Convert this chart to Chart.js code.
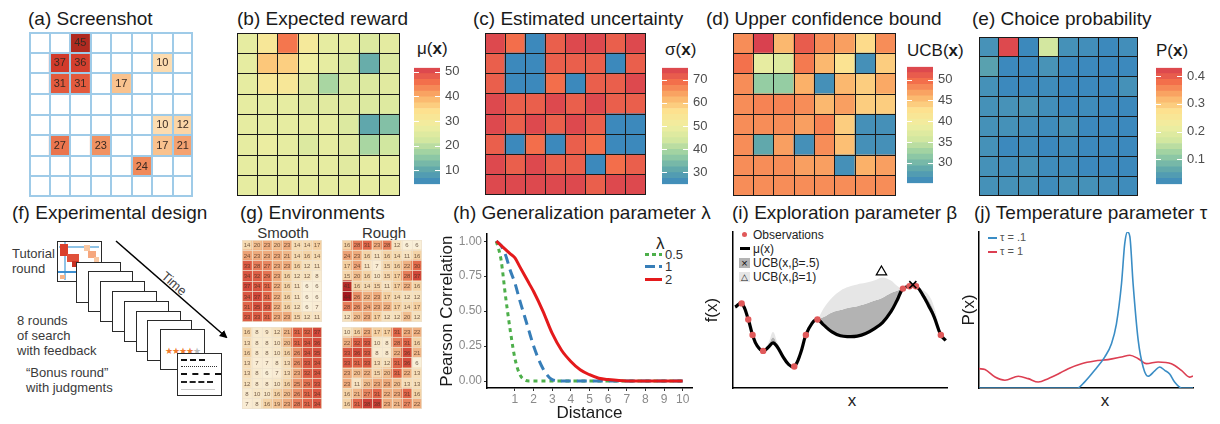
<!DOCTYPE html>
<html><head><meta charset="utf-8">
<script src="https://cdn.jsdelivr.net/npm/chart.js@4.4.1/dist/chart.umd.min.js"></script>
<style>
body{margin:0;background:#fff;font-family:"Liberation Sans",Arial,sans-serif;color:#222;}
#root{position:relative;width:1220px;height:424px;overflow:hidden;background:#fff;}
.t{position:absolute;white-space:nowrap;}
.title{position:absolute;white-space:nowrap;font-size:19px;line-height:19px;color:#1a1a1a;}
.cbl{position:absolute;white-space:nowrap;font-size:17px;line-height:17px;color:#1a1a1a;}
.fr{position:absolute;width:43px;height:39px;background:#fff;border:1.5px solid #2a2a2a;}
.ft{position:absolute;font-size:13px;line-height:15px;color:#3a3a3a;white-space:nowrap;}
.lg{position:absolute;white-space:nowrap;}
</style></head>
<body><div id="root">
<div class="title" style="left:28px;top:9px">(a) Screenshot</div>
<div class="title" style="left:237px;top:9px">(b) Expected reward</div>
<div class="title" style="left:473px;top:9px">(c) Estimated uncertainty</div>
<div class="title" style="left:706px;top:9px">(d) Upper confidence bound</div>
<div class="title" style="left:972px;top:9px">(e) Choice probability</div>
<div class="title" style="left:12px;top:203px">(f) Experimental design</div>
<div class="title" style="left:240px;top:203px">(g) Environments</div>
<div class="title" style="left:453px;top:203px">(h) Generalization parameter λ</div>
<div class="title" style="left:732px;top:203px">(i) Exploration parameter β</div>
<div class="title" style="left:974px;top:203px">(j) Temperature parameter τ</div>

<div class="cbl" style="left:417px;top:40px">μ(<b>x</b>)</div>
<div class="cbl" style="left:665px;top:41px">σ(<b>x</b>)</div>
<div class="cbl" style="left:907px;top:42px">UCB(<b>x</b>)</div>
<div class="cbl" style="left:1156px;top:42px">P(<b>x</b>)</div>

<!-- (f) experimental design illustration -->
<div class="ft" style="left:12px;top:246px">Tutorial<br>round</div>
<div class="ft" style="left:17px;top:313px">8 rounds<br>of search<br>with feedback</div>
<div class="ft" style="left:26px;top:365px">“Bonus round”<br>with judgments</div>
<div id="frames"></div>
<svg style="position:absolute;left:0;top:0" width="240" height="424">
 <defs><marker id="ah" markerWidth="8" markerHeight="8" refX="6" refY="4" orient="auto" markerUnits="userSpaceOnUse"><path d="M0,0 L8,4 L0,8 z" fill="#000"/></marker></defs>
 <line x1="116" y1="241" x2="226" y2="337" stroke="#000" stroke-width="1.5" marker-end="url(#ah)"/>
</svg>
<div class="t" style="left:160px;top:277px;font-size:13px;line-height:13px;color:#444;transform:rotate(41deg);transform-origin:center;">Time</div>

<div class="t" style="left:243px;top:225px;width:80px;text-align:center;font-size:15px;line-height:15px;color:#333">Smooth</div>
<div class="t" style="left:344px;top:225px;width:80px;text-align:center;font-size:15px;line-height:15px;color:#333">Rough</div>

<!-- (h) legend -->
<div class="lg" style="left:656px;top:235px;font-size:17px;line-height:17px;color:#222">λ</div>
<div class="lg" style="left:645px;top:253px;width:17px;height:3px;background:repeating-linear-gradient(90deg,#4daf4a 0 4px,transparent 4px 7px)"></div>
<div class="lg" style="left:665px;top:248px;font-size:13px;line-height:13px;color:#333">0.5</div>
<div class="lg" style="left:645px;top:265px;width:17px;height:3px;background:repeating-linear-gradient(90deg,#377eb8 0 10px,transparent 10px 14px)"></div>
<div class="lg" style="left:665px;top:260px;font-size:13px;line-height:13px;color:#333">1</div>
<div class="lg" style="left:645px;top:278px;width:17px;height:3px;background:#e41a1c"></div>
<div class="lg" style="left:665px;top:273px;font-size:13px;line-height:13px;color:#333">2</div>

<!-- (i) legend -->
<div class="lg" style="left:742px;top:232px;width:5px;height:5px;border-radius:50%;background:#e0595a"></div>
<div class="lg" style="left:753px;top:229px;font-size:12px;line-height:12px;color:#222">Observations</div>
<div class="lg" style="left:740px;top:247px;width:10px;height:3px;background:#000"></div>
<div class="lg" style="left:753px;top:243px;font-size:12px;line-height:12px;color:#222">μ(x)</div>
<div class="lg" style="left:739px;top:258px;width:11px;height:10px;background:#b3b3b3;font-size:11px;line-height:10px;text-align:center;color:#111">×</div>
<div class="lg" style="left:753px;top:257px;font-size:12px;line-height:12px;color:#222">UCB(x,β=.5)</div>
<div class="lg" style="left:739px;top:272px;width:11px;height:10px;background:#e6e6e6;font-size:9px;line-height:10px;text-align:center;color:#111">△</div>
<div class="lg" style="left:753px;top:271px;font-size:12px;line-height:12px;color:#222">UCB(x,β=1)</div>
<div class="t" style="left:842px;top:392px;width:20px;text-align:center;font-size:17px;line-height:17px;color:#222">x</div>

<!-- (j) legend -->
<div class="lg" style="left:988px;top:237px;width:9px;height:1.5px;background:#3a8dc5"></div>
<div class="lg" style="left:1000px;top:232px;font-size:11px;line-height:11px;color:#555">τ = .1</div>
<div class="lg" style="left:988px;top:251px;width:9px;height:1.5px;background:#dc3f52"></div>
<div class="lg" style="left:1000px;top:246px;font-size:11px;line-height:11px;color:#555">τ = 1</div>
<div class="t" style="left:1095px;top:392px;width:20px;text-align:center;font-size:17px;line-height:17px;color:#222">x</div>
</div>

<script>
// ---------------- DATA ----------------
const gridCols = ['1','2','3','4','5','6','7','8'];

const screenshotValues = [
 [null,null,45,null,null,null,null,null],
 [null,37,36,null,null,null,10,null],
 [null,31,31,null,17,null,null,null],
 [null,null,null,null,null,null,null,null],
 [null,null,null,null,null,null,10,12],
 [null,27,null,23,null,null,17,21],
 [null,null,null,null,null,24,null,null],
 [null,null,null,null,null,null,null,null]
];

const expectedReward = [
 [26,31,45,30,26,26,24,25.5],
 [26,37,36,28,26,24,11,24],
 [26,31,31,25,18,24,24,25],
 [26,26,26,25,25,25,24,24.5],
 [26,26,26,26,26,24,10,14],
 [26,27,26,24,26,25,18,22],
 [26,26,26,26,26,25,26,26],
 [26,26,26,26,26,26,26,26]
];
const muRange = [4.4, 51.5];
const muTicks = [10,20,30,40,50];

const estUncertainty = [
 [74,69,25,71,74,74,71,74],
 [71,25,25,71,71,71,25,71],
 [71,25,25,69,25,71,71,74],
 [74,71,71,74,71,74,71,71],
 [74,71,74,71,74,71,25,25],
 [71,25,69,25,71,69,25,25],
 [74,71,74,71,71,25,69,71],
 [74,74,74,74,74,71,74,74]
];
const sigmaRange = [24.8, 75.2];
const sigmaTicks = [30,40,50,60,70];

const ucbValues = [
 [48,53,45.5,51,48,47,43,48],
 [49.5,38,37,49,45.5,42,26,44],
 [48,32,32,46,26,45.5,44,46.5],
 [48,48.5,48.5,48,45.5,47,44,44],
 [48,48,48,47,48.5,44,26,26],
 [48,28.5,47,26,48,45,26,26],
 [48,48,48,47,47,26,46,47],
 [48,48,48,48,48,48,48,48]
];
const ucbRange = [25.1, 53.1];
const ucbTicks = [30,35,40,45,50];

const choiceProb = [
 [0.026,0.42,0.012,0.17,0.024,0.02,0.012,0.02],
 [0.05,0.011,0.011,0.028,0.011,0.011,0.01,0.011],
 [0.024,0.011,0.011,0.016,0.01,0.011,0.011,0.024],
 [0.024,0.026,0.028,0.02,0.011,0.016,0.011,0.012],
 [0.024,0.024,0.02,0.016,0.024,0.011,0.011,0.011],
 [0.024,0.011,0.016,0.01,0.016,0.011,0.011,0.011],
 [0.024,0.02,0.024,0.016,0.016,0.011,0.011,0.012],
 [0.024,0.024,0.024,0.016,0.024,0.024,0.02,0.016]
];
const probRange = [0.01, 0.43];
const probTicks = [0.1,0.2,0.3,0.4];

const smoothEnv1 = [
 [14,20,23,20,23,14,14,17],
 [24,23,23,23,21,14,16,14],
 [33,28,27,23,23,16,12,11],
 [34,32,29,23,16,12,12,8],
 [37,34,31,22,16,11,6,6],
 [34,37,31,22,16,11,6,6],
 [31,35,33,22,16,12,6,7],
 [33,33,31,23,23,15,12,11]
];
const roughEnv1 = [
 [16,28,31,23,28,12,6,6],
 [24,23,16,11,16,14,11,16],
 [17,24,11,7,15,16,22,30],
 [15,20,16,10,15,17,28,37],
 [41,16,14,15,11,17,22,16],
 [44,26,22,23,17,14,12,12],
 [28,26,24,23,22,17,14,17],
 [12,20,23,17,12,12,20,12]
];
const smoothEnv2 = [
 [16,8,9,12,21,31,32,37],
 [13,8,8,10,20,31,34,36],
 [16,8,8,10,16,26,34,35],
 [13,7,7,8,13,26,33,34],
 [13,8,6,7,13,23,32,34],
 [12,8,8,10,16,25,29,33],
 [8,10,10,16,20,26,31,34],
 [7,8,16,19,23,28,31,34]
];
const roughEnv2 = [
 [10,16,23,17,17,31,23,22],
 [22,32,33,10,8,28,31,16],
 [33,36,33,8,8,22,36,21],
 [33,31,33,13,12,31,36,6],
 [23,20,22,15,20,31,22,13],
 [23,11,20,23,23,20,13,13],
 [16,21,27,31,22,23,31,16],
 [16,31,38,38,23,21,27,22]
];

// (h) generalization
const distance  = [0,0.25,0.5,0.75,1,1.25,1.5,1.75,2,2.5,3,3.5,4,4.5,5,5.5,6,7,8,9,10];
const corrLam05 = [1,0.87,0.6,0.36,0.16,0.05,0.01,0,0,0,0,0,0,0,0,0,0,0,0,0,0];
const corrLam1  = [1,0.97,0.9,0.79,0.7,0.58,0.47,0.36,0.25,0.09,0.01,0,0,0,0,0,0,0,0,0,0];
const corrLam2  = [1,0.97,0.94,0.91,0.88,0.82,0.76,0.7,0.64,0.5,0.34,0.22,0.14,0.08,0.045,0.02,0.01,0,0,0,0];
const distTicks = [1,2,3,4,5,6,7,8,9,10];
const corrTicks = [0,0.25,0.5,0.75,1];

// (i) exploration
const xI      = [0,3.1,6.25,8.3,10.5,13.3,16,18,20,22.7,25.5,28.1,31,33.6,36.5,39.1,42,46,50,54,58,62,66,70,74,77,79.7,82.8,85.9,89,92,94.5,97.7,100];
const muI     = [52,54.3,44,34,27,23.8,26.5,29,26.5,20.2,15,13.8,22,34,41.5,44,40.5,36,33.5,33,33.3,35,38,42,49,56.5,63.8,65.3,65.3,60,52.5,45.7,34,30.5];
const ucbHalfI= [52,54.3,44,34,27.5,23.8,28,32.5,28,20.5,15.3,13.8,22,34,41.5,44,45.5,48.5,50,51.5,52.5,54,56,58,61,62.5,63.8,65.3,65.3,61.5,56,49,35,31];
const ucbOneI = [52.5,54.3,44,34,28,23.8,29.5,36,29.5,21,15.6,13.8,22,34,41.5,44,51,58,62.5,65,66.5,67.5,69,71,69,65.5,63.8,65.3,65.3,63,59.5,52,36,32];
const obsX    = [3.1,6.25,8.3,13.3,28.1,33.6,39.1,79.7,82.8,85.9,97.7];
const obsY    = [54.3,44,34,23.8,13.8,34,44,63.8,65.3,65.3,34];
const maxUcb1 = [69.5,74.5];
const maxUcbHalf = [84.4,66.3];

// (j) temperature
const blueX = [0,5,20,40,46,49.3,54,58.8,61.9,64.2,66.6,68.1,69.4,70.5,72,74.4,76.7,79,82.1,84.4,86.8,89.1,91.4,94.6,100];
const blueY = [0,0,0,0,0,3.8,11.3,20,28.4,41,67,92.5,100,97,67,30.5,13.5,7.5,11,13.5,11.3,9,3.8,0,0];
const redX  = [0,2.8,7.5,12.1,18.4,23,27.7,32.3,37,41.7,47.9,54.1,60.3,66.6,70.5,74.4,78.2,83.7,89.9,94.6,98.4,100];
const redY  = [12.4,11.8,7,5,7.5,6,3.8,6,9,12.4,15.6,17.3,18.2,19.9,21,18.8,15.6,16.7,15.6,11.3,7,7.7];

// ---------------- HELPERS ----------------
const root = document.getElementById('root');
Chart.defaults.font.family = '"Liberation Sans", Arial, sans-serif';
Chart.defaults.animation = false;
Chart.defaults.plugins.legend.display = false;
Chart.defaults.plugins.tooltip.enabled = false;

function mk(left, top, w, h, extra){
  const c = document.createElement('canvas');
  c.width = w; c.height = h;
  c.style.cssText = `position:absolute;left:${left}px;top:${top}px;width:${w}px;height:${h}px;` + (extra||'');
  root.appendChild(c); return c;
}
function hexToRgb(h){h=h.replace('#','');return [0,2,4].map(i=>parseInt(h.substr(i,2),16));}
function mix(c1,c2,t){const a=hexToRgb(c1),b=hexToRgb(c2);return 'rgb('+a.map((v,i)=>Math.round(v+(b[i]-v)*t)).join(',')+')';}
function rampEven(cols,t){t=Math.max(0,Math.min(1,t));const s=t*(cols.length-1);const i=Math.min(Math.floor(s),cols.length-2);return mix(cols[i],cols[i+1],s-i);}
function rampStops(stops,v){
  if(v<=stops[0][0]) return stops[0][1];
  for(let i=0;i<stops.length-1;i++){ if(v<=stops[i+1][0]){const t=(v-stops[i][0])/(stops[i+1][0]-stops[i][0]);return mix(stops[i][1],stops[i+1][1],t);} }
  return stops[stops.length-1][1];
}
const SPECTRAL = ['#3b88bd','#62a9ab','#96cea3','#d2e7a0','#f0eea1','#fde18f','#fbb068','#f36f4b','#d8404f'];
const spectral = t => rampEven(SPECTRAL, t);
const shotStops = [[10,'#fcdcb0'],[17,'#f9c28e'],[24,'#f08a5b'],[31,'#e35a3d'],[37,'#d13a2b'],[45,'#b02a20']];
const envStops = [[5,'#faf1dd'],[12,'#f6e1bd'],[17,'#f4cfa0'],[23,'#eeaa7c'],[30,'#e36a4b'],[37,'#d2473a'],[44,'#a3161e']];

const cellText = {
  id:'cellText',
  afterDatasetsDraw(chart, args, opts){
    if(!opts || !opts.show) return;
    const ctx = chart.ctx;
    chart.data.datasets.forEach((ds,i)=>{
      const meta = chart.getDatasetMeta(i);
      meta.data.forEach((el,j)=>{
        const v = ds.cellValues[j]; if(v==null) return;
        const p = el.getCenterPoint();
        ctx.save(); ctx.font = opts.font; ctx.fillStyle = opts.color;
        ctx.textAlign='center'; ctx.textBaseline='middle';
        ctx.fillText(String(v), p.x, p.y + (opts.dy||0)); ctx.restore();
      });
    });
  }
};
// cell boundary lines drawn over the bars, positioned through the chart's scales
const cellGrid = {
  id:'cellGrid',
  afterDatasetsDraw(chart, args, o){
    if(!o || !o.show) return;
    const a = chart.chartArea, ctx = chart.ctx, xs = chart.scales.x, ys = chart.scales.y;
    const w = o.width, half = w/2, n = ys.max, m = chart.data.labels.length;
    const snap = v => (w % 2 === 1) ? Math.round(v - 0.5) + 0.5 : Math.round(v);
    ctx.save(); ctx.strokeStyle = o.color; ctx.lineWidth = w; ctx.beginPath();
    for(let k=0;k<=n;k++){
      let y = ys.getPixelForValue(k);
      y = k===0 ? a.bottom - half : (k===n ? a.top + half : snap(y));
      ctx.moveTo(a.left, y); ctx.lineTo(a.right, y);
    }
    for(let j=0;j<=m;j++){
      let x;
      if(j===0) x = a.left + half;
      else if(j===m) x = a.right - half;
      else x = snap((xs.getPixelForValue(j-1) + xs.getPixelForValue(j))/2);
      ctx.moveTo(x, a.top); ctx.lineTo(x, a.bottom);
    }
    ctx.stroke(); ctx.restore();
  }
};

function heatmap(canvas, matrix, colorOf, o){
  const n = matrix.length, m = matrix[0].length;
  const bottomUp = matrix.slice().reverse();
  const datasets = bottomUp.map(row=>({
    data: row.map(()=>1),
    cellValues: row,
    backgroundColor: row.map(v=>colorOf(v)),
    borderWidth:0, inflateAmount:0.6,
    barPercentage:1, categoryPercentage:1
  }));
  return new Chart(canvas,{
    type:'bar',
    data:{labels:gridCols.slice(0,m), datasets},
    options:{responsive:false, devicePixelRatio:1, animation:false, layout:{padding:0},
      plugins:{legend:{display:false}, tooltip:{enabled:false},
        cellText:o.text||{show:false}, cellGrid:{show:true, color:o.line, width:o.lw}},
      scales:{x:{stacked:true, display:false}, y:{stacked:true, display:false, min:0, max:n}}},
    plugins:[cellGrid, cellText]
  });
}

const whiteTicks = {
  id:'whiteTicks',
  afterDatasetsDraw(chart, args, opts){
    const ys = chart.scales.y, a = chart.chartArea, ctx = chart.ctx;
    ctx.save(); ctx.strokeStyle='#ffffff'; ctx.lineWidth=1;
    opts.values.forEach(v=>{
      const y = Math.round(ys.getPixelForValue(v))+0.5;
      ctx.beginPath(); ctx.moveTo(a.left,y); ctx.lineTo(a.left+5,y);
      ctx.moveTo(a.right-5,y); ctx.lineTo(a.right,y); ctx.stroke();
    });
    ctx.restore();
  }
};

function colorbar(canvas, range, ticks, fmt){
  const [lo,hi] = range, nb = 20, datasets = [];
  for(let k=0;k<nb;k++){
    datasets.push({data:[[lo+(hi-lo)*k/nb, lo+(hi-lo)*(k+1)/nb]], backgroundColor:spectral((k+0.5)/nb),
      grouped:false, barPercentage:1, categoryPercentage:1, borderWidth:0});
  }
  const axisW = canvas.width - 26;
  return new Chart(canvas,{
    type:'bar', data:{labels:[''], datasets},
    options:{responsive:false, devicePixelRatio:1, animation:false,
      layout:{padding:{top:8,bottom:8,left:0,right:0}},
      plugins:{legend:{display:false}, tooltip:{enabled:false}, whiteTicks:{values:ticks}},
      scales:{
        x:{display:false},
        y:{position:'right', min:lo, max:hi,
           grid:{display:false, drawTicks:false}, border:{display:false},
           afterBuildTicks: s => { s.ticks = ticks.map(v=>({value:v})); },
           afterFit: s => { s.width = axisW; },
           ticks:{font:{size:13}, color:'#4d4d4d', padding:5, callback: fmt}}
      }},
    plugins:[whiteTicks]
  });
}

// ---------------- TOP ROW ----------------
heatmap(mk(29,32,164,165), screenshotValues, v => v==null ? '#ffffff' : rampStops(shotStops,v),
  {lw:2, line:'#9fcbe8', text:{show:true, font:'11px "Liberation Sans", Arial', color:'#3a2a22', dy:0.5}});

heatmap(mk(237,33,163,163), expectedReward, v => spectral((v-muRange[0])/(muRange[1]-muRange[0])), {lw:1, line:'#1a1a1a'});
colorbar(mk(414,55,60,142), muRange, muTicks, v=>String(v));

heatmap(mk(485,33,161,162), estUncertainty, v => spectral((v-sigmaRange[0])/(sigmaRange[1]-sigmaRange[0])), {lw:1, line:'#1a1a1a'});
colorbar(mk(662,55,60,142), sigmaRange, sigmaTicks, v=>String(v));

heatmap(mk(733,33,163,163), ucbValues, v => spectral((v-ucbRange[0])/(ucbRange[1]-ucbRange[0])), {lw:1, line:'#1a1a1a'});
colorbar(mk(907,54,60,142), ucbRange, ucbTicks, v=>String(v));

heatmap(mk(979,37,159,159), choiceProb, v => spectral((v-probRange[0])/(probRange[1]-probRange[0])), {lw:1, line:'#1a1a1a'});
colorbar(mk(1156,55,60,142), probRange, probTicks, v=>String(v));

// ---------------- (f) frames ----------------
(function(){
  const fr = document.getElementById('frames');
  const pos = [[57,241],[76,262],[88,271],[100,281],[112,291],[124,301],[136,311],[147,320],[160,329]];
  pos.forEach((p,i)=>{
    const d = document.createElement('div'); d.className='fr';
    d.style.left = p[0]+'px'; d.style.top = p[1]+'px';
    if(i===0){
      d.innerHTML = '<div style="position:absolute;left:1px;top:4px;width:40px;height:2px;background:#8fc3e6"></div>'+
        '<div style="position:absolute;left:6px;top:0;width:2px;height:38px;background:#8fc3e6"></div>'+
        '<div style="position:absolute;left:0;top:29px;width:20px;height:2px;background:#3d8fd0"></div>'+
        '<div style="position:absolute;left:2px;top:2px;width:8px;height:12px;background:#d9402c"></div>'+
        '<div style="position:absolute;left:9px;top:12px;width:12px;height:8px;background:#e0503a"></div>'+
        '<div style="position:absolute;left:14px;top:19px;width:6px;height:6px;background:#c83224"></div>'+
        '<div style="position:absolute;left:26px;top:3px;width:6px;height:6px;background:#f9c7a2"></div>'+
        '<div style="position:absolute;left:30px;top:9px;width:8px;height:7px;background:#f6a77e"></div>'+
        '<div style="position:absolute;left:36px;top:15px;width:5px;height:5px;background:#f9c7a2"></div>'+
        '<div style="position:absolute;left:2px;top:33px;width:5px;height:4px;background:#f8b486"></div>';
    }
    if(i===8){
      d.innerHTML = '<div style="position:absolute;left:4px;top:17px;font-size:9px;line-height:9px;letter-spacing:-1px;color:#f07a2c">★★★★<span style="color:#bbb">★</span></div>';
    }
    fr.appendChild(d);
  });
  const b = document.createElement('div'); b.className='fr';
  b.style.left='177px'; b.style.top='353px'; b.style.height='41px';
  b.innerHTML = '<div style="position:absolute;left:3px;top:5px;width:24px;border-top:2px dashed #111"></div>'+
    '<div style="position:absolute;left:3px;top:12px;width:36px;border-top:1px dotted #333"></div>'+
    '<div style="position:absolute;left:3px;top:19px;width:40px;border-top:2.5px dashed #111"></div>'+
    '<div style="position:absolute;left:3px;top:27px;width:32px;border-top:2px dashed #222"></div>'+
    '<div style="position:absolute;left:3px;top:35px;width:34px;border-top:1px solid #ccc"></div>';
  fr.appendChild(b);
})();

// ---------------- (g) environments ----------------
const envOpts = {lw:1, line:'rgba(238,226,206,0.75)', text:{show:true, font:'6px "Liberation Sans", Arial', color:'rgba(70,45,30,0.75)', dy:0.5}};
const envColor = v => rampStops(envStops, v);
heatmap(mk(242,240,80,82,'filter:blur(0.45px)'), smoothEnv1, envColor, envOpts);
heatmap(mk(342,240,80,82,'filter:blur(0.45px)'), roughEnv1, envColor, envOpts);
heatmap(mk(242,327,80,82,'filter:blur(0.45px)'), smoothEnv2, envColor, envOpts);
heatmap(mk(342,327,80,82,'filter:blur(0.45px)'), roughEnv2, envColor, envOpts);

// ---------------- (h) generalization ----------------
const pts = (xs,ys) => xs.map((x,i)=>({x, y:ys[i]}));
new Chart(mk(437,225,265,199),{
  type:'line',
  data:{datasets:[
    {data:pts(distance,corrLam2), borderColor:'#e41a1c', borderWidth:3, pointRadius:0, cubicInterpolationMode:'monotone', order:0},
    {data:pts(distance,corrLam1), borderColor:'#377eb8', borderWidth:3, borderDash:[10,6], pointRadius:0, cubicInterpolationMode:'monotone', order:1},
    {data:pts(distance,corrLam05), borderColor:'#4daf4a', borderWidth:3, borderDash:[4,4], pointRadius:0, cubicInterpolationMode:'monotone', order:2}
  ]},
  options:{responsive:false, devicePixelRatio:1, animation:false,
    layout:{padding:{top:7,right:10,left:0,bottom:0}},
    scales:{
      x:{type:'linear', min:-0.5, max:10.5,
         afterBuildTicks: s => { s.ticks = distTicks.map(v=>({value:v})); },
         afterFit: s => { s.height = 36; },
         ticks:{color:'#8a8a8a', font:{size:12}, padding:1, maxRotation:0},
         grid:{drawOnChartArea:false, tickLength:3, tickColor:'#333'},
         border:{color:'#000', width:1.5},
         title:{display:true, text:'Distance', font:{size:17}, color:'#1a1a1a', padding:0}},
      y:{min:-0.05, max:1.05,
         afterBuildTicks: s => { s.ticks = corrTicks.map(v=>({value:v})); },
         afterFit: s => { s.width = 50; },
         ticks:{color:'#8a8a8a', font:{size:12}, padding:2, callback:v=>Number(v).toFixed(2)},
         grid:{drawOnChartArea:false, tickLength:3, tickColor:'#333'},
         border:{color:'#000', width:1.5},
         title:{display:true, text:'Pearson Correlation', font:{size:17}, color:'#1a1a1a', padding:0}}
    }}
});

// ---------------- (i) exploration ----------------
new Chart(mk(702,225,253,199),{
  type:'line',
  data:{datasets:[
    {data:pts(xI,ucbOneI), borderWidth:0, pointRadius:0, tension:0.4, fill:'+1', backgroundColor:'#e6e6e6', order:3},
    {data:pts(xI,ucbHalfI), borderWidth:0, pointRadius:0, tension:0.4, fill:'+1', backgroundColor:'#b3b3b3', order:3},
    {data:pts(xI,muI), borderColor:'#000', borderWidth:3.2, pointRadius:0, tension:0.4, fill:false, order:2},
    {data:pts(obsX,obsY), showLine:false, pointRadius:3.2, pointBackgroundColor:'#e0595a', pointBorderWidth:0, order:1},
    {data:[{x:maxUcb1[0], y:maxUcb1[1]}], showLine:false, pointStyle:'triangle', pointRadius:6, pointBackgroundColor:'rgba(0,0,0,0)', pointBorderColor:'#000', pointBorderWidth:1.2, order:0},
    {data:[{x:maxUcbHalf[0], y:maxUcbHalf[1]}], showLine:false, pointStyle:'crossRot', pointRadius:5, pointBorderColor:'#000', pointBorderWidth:1.6, order:0}
  ]},
  options:{responsive:false, devicePixelRatio:1, animation:false,
    layout:{padding:{top:7,right:7,left:0,bottom:0}},
    plugins:{filler:{drawTime:'beforeDatasetsDraw'}},
    scales:{
      x:{type:'linear', min:-1, max:101, ticks:{display:false}, grid:{display:false, drawTicks:false},
         border:{color:'#000', width:1.5}, afterFit: s => { s.height = 36; }},
      y:{min:0, max:100, ticks:{display:false}, grid:{display:false, drawTicks:false},
         border:{color:'#000', width:1.5}, afterFit: s => { s.width = 31; },
         title:{display:true, text:'f(x)', font:{size:17}, color:'#1a1a1a', padding:0}}
    }}
});

// ---------------- (j) temperature ----------------
new Chart(mk(959,225,261,199),{
  type:'line',
  data:{datasets:[
    {data:pts(blueX,blueY), borderColor:'#3a8dc5', borderWidth:1.6, pointRadius:0, cubicInterpolationMode:'monotone'},
    {data:pts(redX,redY), borderColor:'#dc3f52', borderWidth:1.6, pointRadius:0, cubicInterpolationMode:'monotone'}
  ]},
  options:{responsive:false, devicePixelRatio:1, animation:false,
    layout:{padding:{top:7,right:27,left:0,bottom:0}},
    scales:{
      x:{type:'linear', min:0, max:100, ticks:{display:false}, grid:{display:false, drawTicks:false},
         border:{color:'#000', width:1.5}, afterFit: s => { s.height = 36; }},
      y:{min:0, max:100, ticks:{display:false}, grid:{display:false, drawTicks:false},
         border:{color:'#000', width:1.5}, afterFit: s => { s.width = 20; },
         title:{display:true, text:'P(x)', font:{size:17}, color:'#1a1a1a', padding:0}}
    }}
});
</script>
</body></html>
